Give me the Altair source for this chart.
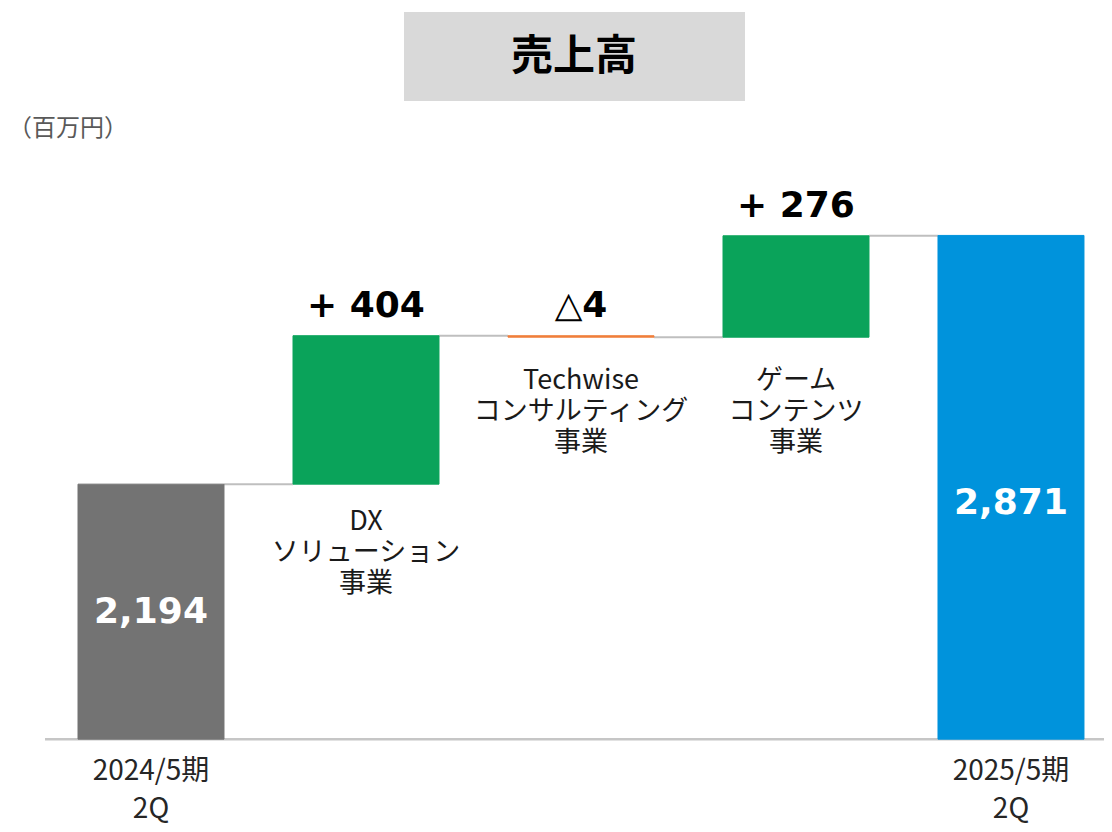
import altair as alt
import pandas as pd

# ---- data ----
categories = [
    "2024/5期\n2Q",
    "DX\nソリューション\n事業",
    "Techwise\nコンサルティング\n事業",
    "ゲーム\nコンテンツ\n事業",
    "2025/5期\n2Q",
]
start_value = 2194
changes = [404, -4, 276]
end_value = 2871
change_labels = ["+ 404", "△4", "+ 276"]
total_labels = ["2,194", "2,871"]
kinds = ["start", "increase", "decrease", "increase", "end"]

# ---- styles ----
kind_domain = ["start", "increase", "decrease", "end"]
kind_colors = ["#737373", "#0AA35A", "#F07F3C", "#0093DC"]
AXIS_BASE = 1500
HALF = 0.3395
W, H = 1096, 816
XDOM = [-0.6651, 4.4326]
YDOM = [1269, 3490]
CJK = "Noto Sans CJK JP"
NUM = "DejaVu Sans"

rows = []
level = start_value
rows.append(dict(i=0, lo=AXIS_BASE, hi=start_value, kind=kinds[0], cat=categories[0], change="", total=total_labels[0]))
for j, ch in enumerate(changes):
    rows.append(dict(i=j + 1, lo=level, hi=level + ch, kind=kinds[j + 1], cat=categories[j + 1], change=change_labels[j], total=""))
    level += ch
rows.append(dict(i=4, lo=AXIS_BASE, hi=end_value, kind=kinds[4], cat=categories[4], change="", total=total_labels[1]))
df = pd.DataFrame(rows)
df["x0"] = df["i"] - HALF
df["x1"] = df["i"] + HALF
df["top"] = df[["lo", "hi"]].max(axis=1)
df["bottom"] = df[["lo", "hi"]].min(axis=1)
df["mid"] = (df["lo"] + df["hi"]) / 2

conn = pd.DataFrame(
    [dict(x0=k + HALF, x1=k + 1 - HALF, y=rows[k]["hi"]) for k in range(len(rows) - 1)]
)

xs = alt.Scale(domain=XDOM, nice=False, zero=False)
ys = alt.Scale(domain=YDOM, nice=False, zero=False)

base = alt.Chart(df)

baseline = alt.Chart(pd.DataFrame({"y": [AXIS_BASE]})).mark_rule(
    color="#C6C6C6", strokeWidth=2.5
).encode(x=alt.value(37), x2=alt.value(W), y=alt.Y("y:Q", scale=ys, axis=None))

connectors = alt.Chart(conn).mark_rule(color="#BFBFBF", strokeWidth=2).encode(
    x=alt.X("x0:Q", scale=xs, axis=None), x2="x1:Q", y=alt.Y("y:Q", scale=ys, axis=None)
)

bars = base.mark_rect(strokeWidth=1).encode(
    x=alt.X("x0:Q", scale=xs, axis=None),
    x2="x1:Q",
    y=alt.Y("lo:Q", scale=ys, axis=None),
    y2="hi:Q",
    color=alt.Color("kind:N", scale=alt.Scale(domain=kind_domain, range=kind_colors), legend=None),
    stroke=alt.Color("kind:N", scale=alt.Scale(domain=kind_domain, range=kind_colors), legend=None),
)

mids = base.transform_filter("datum.change != ''")

change_text = mids.mark_text(
    font=NUM, fontSize=36, fontWeight="bold", color="#000000", baseline="alphabetic", dy=-19
).encode(x=alt.X("i:Q", scale=xs, axis=None), y=alt.Y("top:Q", scale=ys, axis=None), text="change:N")

cat_text_dx = base.transform_filter("datum.i == 1").mark_text(
    font=CJK, fontSize=27, color="#1A1A1A", baseline="top", dy=25, lineBreak="\n", lineHeight=31
).encode(x=alt.X("i:Q", scale=xs, axis=None), y=alt.Y("bottom:Q", scale=ys, axis=None), text="cat:N")

cat_text_rest = base.transform_filter("datum.i == 2 || datum.i == 3").mark_text(
    font=CJK, fontSize=27, color="#1A1A1A", baseline="top", dy=31, lineBreak="\n", lineHeight=31
).encode(x=alt.X("i:Q", scale=xs, axis=None), y=alt.Y("bottom:Q", scale=ys, axis=None), text="cat:N")

tot_start = base.transform_filter("datum.i == 0").mark_text(
    font=NUM, fontSize=36, fontWeight="bold", color="#FFFFFF", baseline="middle"
).encode(x=alt.X("i:Q", scale=xs, axis=None), y=alt.Y("mid:Q", scale=ys, axis=None), text="total:N")

tot_end = base.transform_filter("datum.i == 4").mark_text(
    font=NUM, fontSize=36, fontWeight="bold", color="#FFFFFF", baseline="middle", dy=16
).encode(x=alt.X("i:Q", scale=xs, axis=None), y=alt.Y("mid:Q", scale=ys, axis=None), text="total:N")

bottom_text = base.transform_filter("datum.total != ''").mark_text(
    font=CJK, fontSize=28, color="#262626", baseline="top", dy=19, lineBreak="\n", lineHeight=38
).encode(x=alt.X("i:Q", scale=xs, axis=None), y=alt.datum(AXIS_BASE, scale=ys), text="cat:N")

title_box = alt.Chart(pd.DataFrame({"t": ["売上高"]})).mark_rect(color="#D9D9D9").encode(
    x=alt.value(396), x2=alt.value(737), y=alt.value(4), y2=alt.value(93)
)
title_text = alt.Chart(pd.DataFrame({"t": ["売上高"]})).mark_text(
    font=CJK, fontSize=42, fontWeight="bold", color="#000000", baseline="middle", align="center"
).encode(x=alt.value(566), y=alt.value(49), text="t:N")

unit_text = alt.Chart(pd.DataFrame({"t": ["（百万円）"]})).mark_text(
    font=CJK, fontSize=24, color="#595959", baseline="middle", align="left"
).encode(x=alt.value(0), y=alt.value(121), text="t:N")

chart = alt.layer(
    baseline, connectors, bars, change_text, cat_text_dx, cat_text_rest, tot_start, tot_end,
    bottom_text, title_box, title_text, unit_text,
).properties(
    width=W, height=H, padding=0, autosize=alt.AutoSizeParams(type="none")
).configure_view(stroke=None)

chart.save("out.html", embed_options={"renderer": "svg", "actions": False})
